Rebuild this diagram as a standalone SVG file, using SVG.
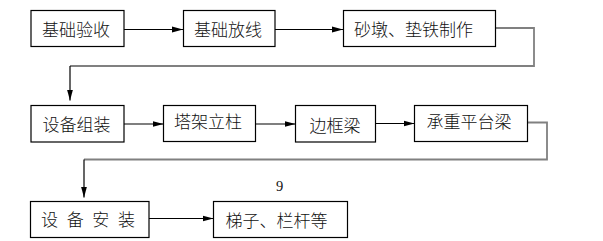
<svg xmlns="http://www.w3.org/2000/svg" width="603" height="241" viewBox="0 0 603 241">
<defs>
<style>
.box{fill:#fff;stroke:#000;stroke-width:1.2}
.t{font-family:"Noto Sans CJK SC","Noto Sans CJK JP",sans-serif;font-size:17px;font-weight:300;fill:#111;text-anchor:middle;dominant-baseline:central}
.ln{fill:none;stroke:#000;stroke-width:1.2}
.gr{fill:none;stroke:#808080;stroke-width:1.8}
</style>
<marker id="ah" markerUnits="userSpaceOnUse" markerWidth="12" markerHeight="8" refX="11" refY="4" orient="auto">
<path d="M0,1 L11,4 L0,7 Z" fill="#000"/>
</marker>
</defs>
<rect width="603" height="241" fill="#fff"/>
<g id="connectors">
<line class="ln" x1="124" y1="29.5" x2="183" y2="29.5" marker-end="url(#ah)"/>
<line class="ln" x1="275" y1="29.5" x2="343" y2="29.5" marker-end="url(#ah)"/>
<polyline class="gr" points="495,28 534,28 534,66 70,66"/>
<line class="ln" x1="70" y1="66" x2="70" y2="100.5" marker-end="url(#ah)"/>
<line class="ln" x1="124" y1="124" x2="163.5" y2="124" marker-end="url(#ah)"/>
<line class="ln" x1="255.5" y1="124" x2="295.5" y2="124" marker-end="url(#ah)"/>
<line class="ln" x1="375.5" y1="123.5" x2="414.5" y2="123.5" marker-end="url(#ah)"/>
<polyline class="gr" points="527.5,122.5 547,122.5 547,159.5 84,159.5"/>
<line class="ln" x1="84" y1="159.5" x2="84" y2="197.5" marker-end="url(#ah)"/>
<line class="ln" x1="149" y1="218.5" x2="213.5" y2="218.5" marker-end="url(#ah)"/>
</g>
<g id="n1"><rect class="box" x="31" y="10.5" width="93" height="36"/><text class="t" x="76" y="28">基础验收</text></g>
<g id="n2"><rect class="box" x="183.5" y="10.5" width="91.5" height="36"/><text class="t" x="228" y="28">基础放线</text></g>
<g id="n3"><rect class="box" x="343.5" y="10.5" width="152" height="36"/><text class="t" x="413.5" y="28">砂墩、垫铁制作</text></g>
<g id="n4"><rect class="box" x="31" y="105.5" width="93" height="36.5"/><text class="t" x="76.5" y="123.5">设备组装</text></g>
<g id="n5"><rect class="box" x="163.5" y="105.5" width="92" height="36"/><text class="t" x="208" y="120.5">塔架立柱</text></g>
<g id="n6"><rect class="box" x="295.5" y="105.5" width="80" height="36.5"/><text class="t" x="335" y="124">边框梁</text></g>
<g id="n7"><rect class="box" x="414.5" y="105.5" width="113" height="36"/><text class="t" x="469" y="120.5">承重平台梁</text></g>
<g id="n8"><rect class="box" x="30.5" y="201.5" width="118.5" height="36"/><text class="t" x="88" y="218" xml:space="preserve" textLength="94">设 备 安 装</text></g>
<g id="n9"><rect class="box" x="213.5" y="201.5" width="134" height="36"/><text class="t" x="276.5" y="219.5">梯子、栏杆等</text></g>
<text x="279.5" y="190.5" font-family="Liberation Serif, serif" font-size="14.5" text-anchor="middle" fill="#111">9</text>
</svg>
